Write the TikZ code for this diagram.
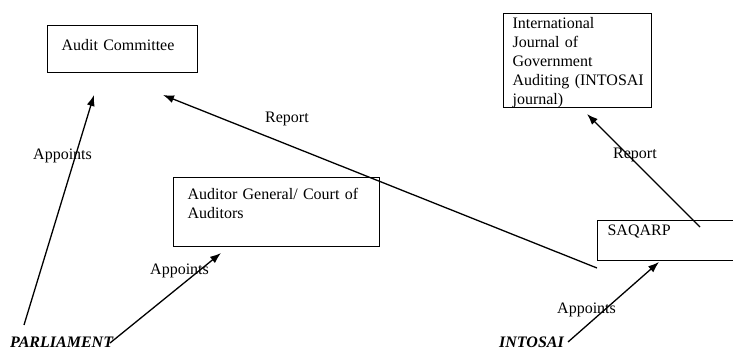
\documentclass[tikz,border=0pt]{standalone}
\usepackage{fontspec}
\setmainfont{Liberation Serif}
\usetikzlibrary{arrows.meta}
\begin{document}
\begin{tikzpicture}[x=1pt,y=-1pt,
  box/.style={draw, line width=1.1pt, anchor=north west, align=left, inner ysep=0pt, font=\fontsize{16}{19}\selectfont},
  lbl/.style={anchor=base west, inner sep=0pt, font=\fontsize{16}{19}\selectfont},
  actor/.style={anchor=base west, inner sep=0pt, font=\fontsize{16}{19}\selectfont\bfseries\itshape},
  conn/.style={line width=1.3pt, -{Latex[length=11pt,width=8pt]}}]
\useasboundingbox (0,0) rectangle (733,352);
\clip (0,0) rectangle (733,352);
% boxes
\node[box, inner xsep=14pt, text width=122pt, text height=25pt, text depth=22pt] (ac) at (47,25) {Audit Committee};
\node[box, inner xsep=9pt, text width=130pt, text height=15pt, text depth=79pt] (ij) at (503,13)
  {International\\Journal of\\Government\\\mbox{Auditing (INTOSAI}\\journal)};
\node[box, inner xsep=14pt, text width=178pt, text height=22pt, text depth=47pt] (ag) at (173,177)
  {Auditor General/ Court of\\Auditors};
\node[box, inner xsep=10pt, text width=150pt, text height=15pt, text depth=25pt] (sq) at (597,220) {SAQARP};
% actors
\node[actor] (parl) at (10,347) {PARLIAMENT};
\node[actor] (into) at (499,348) {INTOSAI};
% connector end points
\coordinate (p1) at (24,325);
\coordinate (t1) at (94,95);
\coordinate (p2) at (110,343);
\coordinate (t2) at (221,253);
\coordinate (p3) at (597,268);
\coordinate (t3) at (163,95);
\coordinate (p4) at (568,342);
\coordinate (t4) at (659,262);
\coordinate (p5) at (700,227);
\coordinate (t5) at (587,114);
\draw[conn] (p1) -- (t1);
\draw[conn] (p2) -- (t2);
\draw[conn] (p3) -- (t3);
\draw[conn] (p4) -- (t4);
\draw[conn] (p5) -- (t5);
% labels
\node[lbl] (l1) at (33,160) {Appoints};
\node[lbl] (l2) at (265,123) {Report};
\node[lbl] (l3) at (150,275) {Appoints};
\node[lbl] (l4) at (557,313) {Appoints};
\node[lbl] (l5) at (613,159) {Report};
\end{tikzpicture}
\end{document}
